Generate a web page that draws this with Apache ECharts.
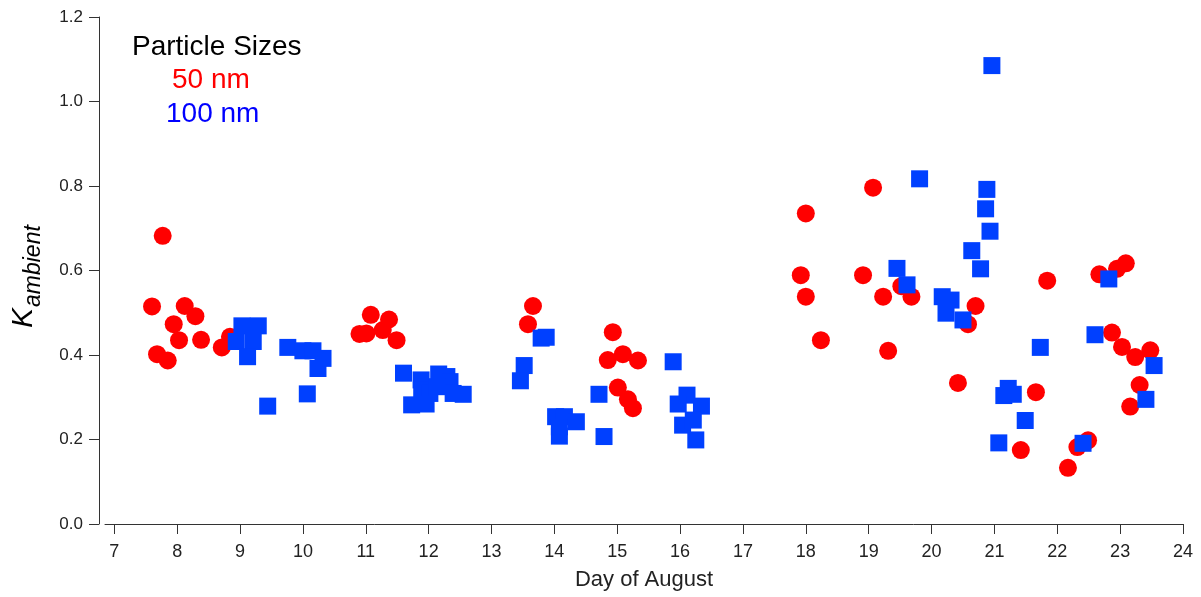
<!DOCTYPE html>
<html>
<head>
<meta charset="utf-8">
<script src="https://cdn.jsdelivr.net/npm/echarts@6/dist/echarts.min.js"></script>
<style>html,body{margin:0;padding:0;background:#fff}#c{width:1201px;height:597px}</style>
</head>
<body>
<div id="c"></div>
<script>
// 50 nm (red circles): [day, kappa]
const red50 = [
  [7.77,0.682],[7.60,0.515],[8.12,0.516],[8.29,0.492],[7.945,0.473],[8.03,0.435],[8.38,0.436],
  [7.68,0.402],[7.85,0.387],[8.71,0.418],[8.84,0.443],
  [10.90,0.45],[11.01,0.451],[11.08,0.495],[11.37,0.484],[11.27,0.459],[11.49,0.435],
  [13.66,0.516],[13.58,0.473],
  [14.93,0.454],[14.85,0.388],[15.09,0.402],[15.33,0.387],[15.01,0.323],[15.17,0.295],[15.25,0.274],
  [19.07,0.796],[18.0,0.735],[17.92,0.589],[18.91,0.589],[18.0,0.538],[19.23,0.538],[19.68,0.538],
  [19.52,0.563],[18.24,0.435],[19.31,0.41],[20.70,0.516],[20.58,0.473],[20.42,0.334],
  [21.84,0.576],[22.67,0.591],[22.95,0.604],[23.09,0.617],[22.87,0.453],[23.03,0.419],[23.24,0.395],
  [23.48,0.411],[23.31,0.329],[23.16,0.278],[21.66,0.312],[21.42,0.175],[22.32,0.182],[22.49,0.198],
  [22.17,0.133]
];
// 100 nm (blue squares): [day, kappa]
const blue100 = [
  [9.03,0.469],[9.29,0.469],[8.94,0.432],[9.21,0.432],[9.12,0.396],[9.44,0.279],
  [9.76,0.418],[10.0,0.41],[10.16,0.41],[10.32,0.392],[10.24,0.368],[10.07,0.308],
  [11.60,0.357],[11.88,0.341],[12.16,0.355],[12.29,0.349],[12.34,0.337],[11.89,0.317],[12.02,0.309],
  [11.73,0.282],[11.96,0.284],[12.39,0.309],[12.55,0.307],[12.13,0.325],
  [13.79,0.44],[13.87,0.442],[13.52,0.375],[13.46,0.339],
  [14.02,0.254],[14.16,0.254],[14.35,0.242],[14.08,0.23],[14.08,0.208],[14.71,0.307],[14.79,0.207],
  [15.89,0.384],[16.11,0.305],[15.97,0.284],[16.34,0.279],[16.04,0.234],[16.21,0.246],[16.25,0.199],
  [19.81,0.817],[19.45,0.605],[19.61,0.566],[20.17,0.538],[20.31,0.53],[20.23,0.499],[20.50,0.483],
  [20.96,1.085],[20.88,0.792],[20.86,0.746],[20.93,0.693],[20.64,0.647],[20.78,0.604],
  [21.15,0.304],[21.22,0.321],[21.30,0.307],[21.07,0.192],[21.49,0.245],[21.73,0.418],
  [22.41,0.191],[22.6,0.448],[22.82,0.58],[23.54,0.375],[23.41,0.295]
];
const xTicks = [7,8,9,10,11,12,13,14,15,16,17,18,19,20,21,22,23,24];
const yTicks = [0,0.2,0.4,0.6,0.8,1.0,1.2];
const legendTitle = 'Particle Sizes';
const legendItems = ['50 nm', '100 nm'];

const chart = echarts.init(document.getElementById('c'), null, {renderer:'canvas'});
const font = '"Liberation Sans", Arial, sans-serif';
const axisColor = '#333';
chart.setOption({
  animation:false,
  backgroundColor:'#fff',
  grid:{left:105,right:18,top:17,bottom:73},
  xAxis:{
    type:'value', min:6.852, max:24,
    axisLine:{show:true,lineStyle:{color:axisColor,width:1}},
    axisTick:{show:true,length:10,customValues:xTicks,lineStyle:{color:axisColor}},
    axisLabel:{customValues:xTicks,color:'#222',fontSize:18,fontFamily:font,margin:19},
    splitLine:{show:false},
    name:'Day of August', nameLocation:'middle', nameGap:45,
    nameTextStyle:{color:'#222',fontSize:22,fontFamily:font}
  },
  yAxis:{
    type:'value', min:0, max:1.2, interval:0.2, offset:6,
    axisLine:{show:true,lineStyle:{color:axisColor,width:1}},
    axisTick:{show:true,length:10,customValues:yTicks,lineStyle:{color:axisColor}},
    axisLabel:{customValues:yTicks,color:'#222',fontSize:17,fontFamily:font,margin:16,formatter:v=>v.toFixed(1)},
    splitLine:{show:false}
  },
  graphic:[
    {type:'group', x:24, y:328, rotation:Math.PI/2, children:[
      {type:'text', x:0, y:0, style:{text:'K', fontSize:30, fontStyle:'italic', fontFamily:font, fill:'#000', align:'left', verticalAlign:'middle'}},
      {type:'text', x:21, y:10, style:{text:'ambient', fontSize:23, fontStyle:'italic', fontFamily:font, fill:'#000', align:'left', verticalAlign:'middle'}}
    ]},
    {type:'text', x:132, y:47, style:{text:legendTitle, fontSize:28, fontFamily:font, fill:'#000', verticalAlign:'middle'}},
    {type:'text', x:172, y:80, style:{text:legendItems[0], fontSize:28, fontFamily:font, fill:'#ff0000', verticalAlign:'middle'}},
    {type:'text', x:166, y:114, style:{text:legendItems[1], fontSize:28, fontFamily:font, fill:'#0000ff', verticalAlign:'middle'}}
  ],
  series:[
    {type:'scatter',name:legendItems[0],data:red50,symbol:'circle',symbolSize:18,
     itemStyle:{color:'#ff0000',opacity:1}},
    {type:'scatter',name:legendItems[1],data:blue100,symbol:'rect',symbolSize:17,
     itemStyle:{color:'#0040ff',opacity:1}}
  ]
});
</script>
</body>
</html>
